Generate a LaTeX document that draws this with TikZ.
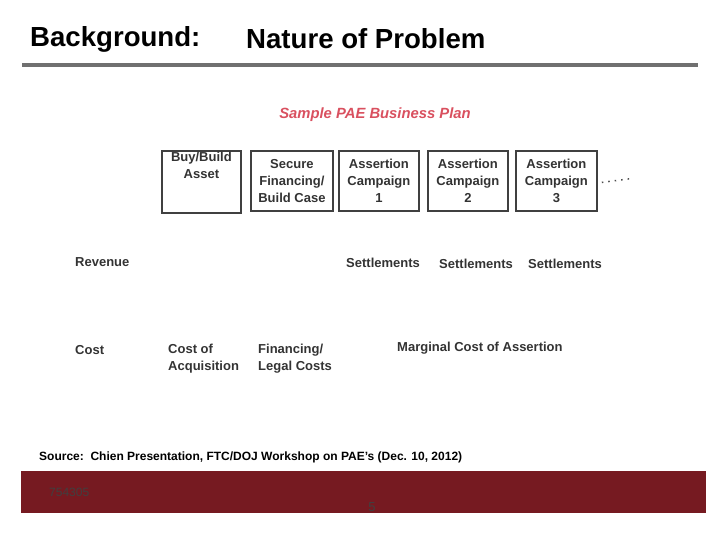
\documentclass[tikz,border=0pt]{standalone}
\usepackage{fontspec}
\setmainfont{Liberation Sans}
\definecolor{maroon}{HTML}{761A21}
\definecolor{pinkred}{HTML}{D9505F}
\definecolor{hdrgray}{HTML}{707070}
\tikzset{
  boxn/.style={draw=black!75,line width=1.8pt,minimum width=80pt,minimum height=60pt,align=center,font=\bfseries\fontsize{13}{17}\selectfont,text=black!80,anchor=north west,inner sep=1pt,text depth=0pt},
  lab/.style={font=\bfseries\fontsize{13}{17}\selectfont,text=black!80,align=left,anchor=west,inner sep=0pt},
  ttl/.style={font=\bfseries\fontsize{27.6}{30}\selectfont,anchor=west,inner sep=0pt}
}
\begin{document}
\begin{tikzpicture}[x=1pt,y=-1pt]
\useasboundingbox (0,0) rectangle (720,540);
\node[ttl] (t1) at (30,39) {Background:};
\node[ttl] (t2) at (246,39) {Nature of Problem};
\fill[hdrgray] (22,63) rectangle (698,67.5);
\node[font=\bfseries\itshape\fontsize{14.8}{17}\selectfont,text=pinkred] (sub) at (375,115) {Sample PAE Business Plan};
\node[boxn,minimum width=79pt] (b1) at (161,150) {Buy/Build\\Asset\\[17pt]};
\node[boxn,minimum width=82pt] (b2) at (250,150) {Secure\\Financing/\\Build Case};
\node[boxn] (b3) at (338,150) {Assertion\\Campaign\\1};
\node[boxn] (b4) at (427,150) {Assertion\\Campaign\\2};
\node[boxn,minimum width=81pt] (b5) at (515,150) {Assertion\\Campaign\\3};
\coordinate (dend) at (632,178.5);
\draw[black!70,line width=1.5pt,dash pattern=on 1.5pt off 5pt] ([xshift=4pt,yshift=-1.5pt]b5.east) -- (dend);
\node[lab] (rev) at (75,262) {Revenue};
\node[lab] (s1) at (346,263) {Settlements};
\node[lab] (s2) at (439,264) {Settlements};
\node[lab] (s3) at (528,264) {Settlements};
\node[lab] (cost) at (75,350) {Cost};
\node[lab] (ca) at (168,359) {Cost of\\Acquisition};
\node[lab] (fl) at (258,359) {Financing/\\Legal Costs};
\node[lab] (mc) at (397,348) {Marginal Cost of Assertion};
\node[font=\bfseries\fontsize{12}{14}\selectfont,anchor=west,inner sep=0pt] (src) at (39,457) {Source:\ \ Chien Presentation, FTC/DOJ Workshop on PAE's (Dec. 10, 2012)};
\fill[maroon] (21,471) rectangle (706,513);
\node[font=\fontsize{12}{14}\selectfont,text=black!75,anchor=west,inner sep=0pt] (num) at (49,492) {754305};
\node[font=\fontsize{13}{14}\selectfont,text=black!75,inner sep=0pt] (pg) at (372,507) {5};
\end{tikzpicture}
\end{document}
